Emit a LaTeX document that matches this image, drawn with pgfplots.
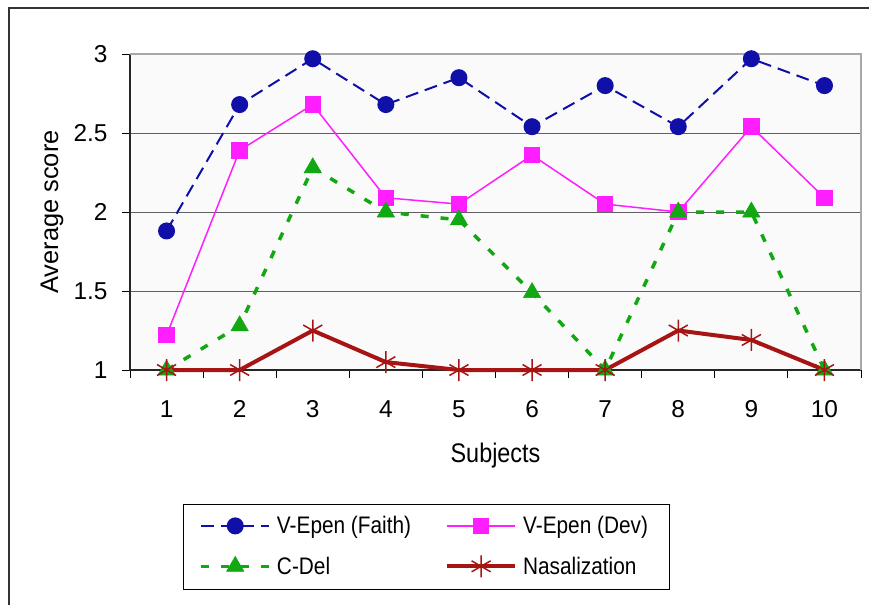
\documentclass[border=0pt]{standalone}
\usepackage{fontspec}
\setmainfont{Liberation Sans}
\newfontfamily\narrow[FakeStretch=0.87]{Liberation Sans}
\usepackage{pgfplots}
\pgfplotsset{compat=1.18}
\definecolor{cfaith}{RGB}{16,16,168}
\definecolor{cdev}{RGB}{255,30,255}
\definecolor{cdel}{RGB}{18,168,18}
\definecolor{cnas}{RGB}{168,20,20}
\definecolor{cgrid}{RGB}{96,96,96}
\definecolor{cbord}{RGB}{168,168,168}
\begin{document}
\begin{tikzpicture}[x=1bp,y=1bp]
\path[use as bounding box] (0,0) rectangle (869,-605);
\draw[line width=1.5bp, black!80] (9,-605) -- (9,-8) -- (869,-8);
\begin{axis}[
  at={(130bp,-370bp)}, anchor=south west,
  scale only axis, width=731bp, height=316bp,
  xmin=0.5, xmax=10.5, ymin=1, ymax=3,
  clip=false,
  axis line style={draw=none},
  axis background/.style={fill=black!2},
  xtick={1,...,10},
  ytick={1,1.5,2,2.5,3},
  minor xtick={0.5,1.5,...,10.5},
  tick pos=left,
  tick align=outside,
  major tick length=8bp, minor tick length=8bp,
  major x tick style={draw=none},
  every tick/.style={black, line width=1bp},
  ymajorgrids, grid style={cgrid, line width=1bp},
  /pgf/number format/assume math mode=true,
  xticklabel={\fontsize{24.5}{28}\selectfont\pgfmathprintnumber{\tick}},
  yticklabel={\fontsize{24.5}{28}\selectfont\pgfmathprintnumber{\tick}},
  xticklabel style={anchor=center, text height=17.5bp, text depth=0bp, yshift=-31bp},
  yticklabel style={xshift=-11bp},
  xlabel={Subjects}, ylabel={Average score},
  every axis x label/.style={at={(axis description cs:0.5,-0.272)}, anchor=center, font=\narrow\fontsize{27}{30}\selectfont},
  every axis y label/.style={at={(axis description cs:-0.1067,0.5)}, anchor=center, rotate=90, font=\fontsize{25.5}{30}\selectfont},
  legend columns=2,
  legend cell align=left,
  legend style={at={(axis description cs:0.0725,-0.424)}, anchor=north west,
    draw=black, line width=1bp, font=\narrow\fontsize{24}{27}\selectfont,
    inner xsep=16bp, inner ysep=12bp, row sep=20bp,
    nodes={inner xsep=6bp, inner ysep=0bp},
    /tikz/every even column/.append style={column sep=28bp}},
  legend image code/.code={\draw[mark repeat=2,mark phase=2] plot coordinates {(0bp,0bp) (34bp,0bp) (68bp,0bp)};},
]
\draw[black!85, line width=1.2bp] (rel axis cs:0,1) -- (rel axis cs:0,0) -- (rel axis cs:1,0);
\draw[cbord, line width=1.5bp] (rel axis cs:0,1) -- (rel axis cs:1,1) -- (rel axis cs:1,0);
\addplot[cfaith, line width=2bp, dash pattern=on 13bp off 7bp, mark=*, mark size=7.5bp, mark options={solid}]
  coordinates {(1,1.88) (2,2.68) (3,2.97) (4,2.68) (5,2.85) (6,2.54) (7,2.80) (8,2.54) (9,2.97) (10,2.80)};
\addlegendentry{V-Epen (Faith)}
\addplot[cdev, line width=1.5bp, mark=square*, mark size=7.5bp]
  coordinates {(1,1.22) (2,2.39) (3,2.68) (4,2.09) (5,2.05) (6,2.36) (7,2.05) (8,2.00) (9,2.54) (10,2.09)};
\addlegendentry{V-Epen (Dev)}
\addplot[cdel, line width=3.5bp, dash pattern=on 8bp off 12bp, mark=triangle*, mark size=10bp, mark options={solid, line width=0.5bp}]
  coordinates {(1,1.0) (2,1.28) (3,2.28) (4,2.0) (5,1.95) (6,1.49) (7,1.0) (8,2.0) (9,2.0) (10,1.0)};
\addlegendentry{C-Del}
\addplot[cnas, line width=4bp, mark=asterisk, mark size=11bp, mark options={line width=1.5bp}]
  coordinates {(1,1.0) (2,1.0) (3,1.25) (4,1.05) (5,1.0) (6,1.0) (7,1.0) (8,1.25) (9,1.19) (10,1.0)};
\addlegendentry{Nasalization}
\end{axis}
\end{tikzpicture}
\end{document}
